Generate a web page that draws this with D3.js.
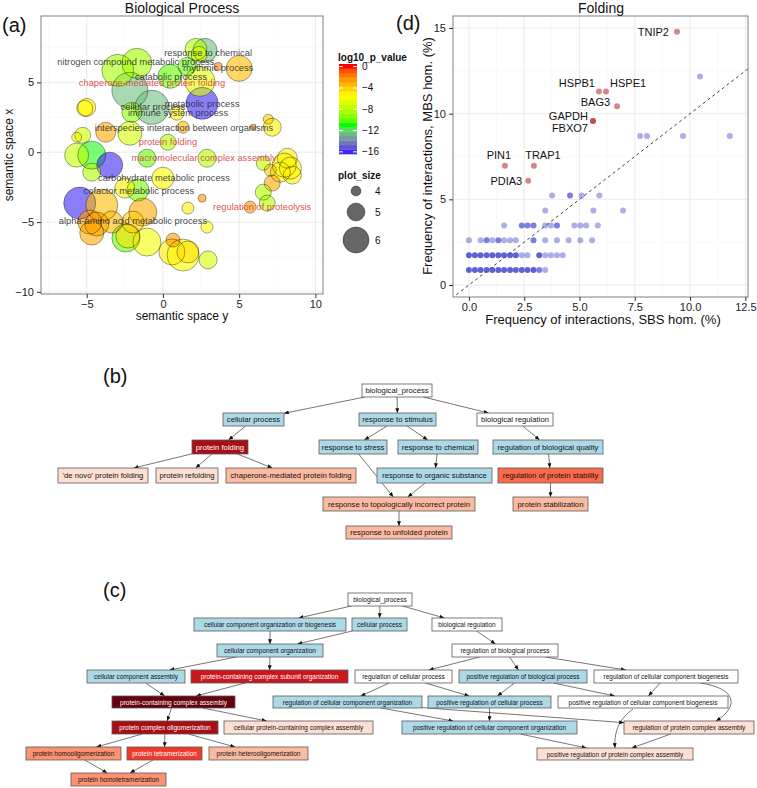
<!DOCTYPE html>
<html><head><meta charset="utf-8">
<script src="https://cdn.jsdelivr.net/npm/d3@7"></script>
<style>body{margin:0;background:#fff}svg{font-family:"Liberation Sans",Arial,Helvetica,sans-serif}</style>
</head><body><svg id="c" width="757" height="788"></svg>
<script>
// ---------------- DATA ----------------
// Panel (a): REVIGO bubbles (semantic space)
const bubX = [2.17,2.76,2.37,-2.96,-1.71,-2.17,0.46,1.58,2.43,3.62,
  5.0,2.57,-0.72,-2.04,0.92,-5.0,-5.13,-3.75,-2.17,1.32,
  -5.26,-5.66,0.33,-5.66,-4.67,-3.49,-4.67,-1.05,2.89,0.0,
  -2.5,-1.64,-5.46,-4.01,-1.32,2.57,1.64,2.89,-4.8,-4.34,
  -4.67,-3.36,-1.97,-2.43,-2.3,-1.05,0.66,0.59,1.32,1.64,
  2.96,5.92,6.91,7.17,8.16,8.36,7.7,7.96,6.58,7.04,
  7.17,6.58,6.84,5.72,8.49];
const bubY = [7.36,7.29,7.0,5.86,6.36,4.43,5.43,6.14,5.07,6.14,
  6.0,3.5,3.21,2.86,2.79,3.21,3.14,1.43,1.36,1.79,
  1.21,1.07,0.71,-0.21,-0.21,-0.93,-1.43,-0.43,-0.43,-1.86,
  -2.57,-2.71,-3.64,-3.79,-4.29,-3.29,-4.0,-5.36,-5.0,-5.14,
  -5.79,-5.0,-5.0,-6.14,-6.0,-6.43,-6.29,-7.14,-7.36,-7.14,
  -7.71,1.79,2.36,1.79,-0.43,-1.14,-1.43,-0.93,-0.79,-1.29,
  -2.21,-2.86,-3.64,-3.93,-1.64];
const bubSize = [5.5,5.75,4.75,6.75,6.5,7.25,5.75,5.0,6.5,3.75,
  6.0,6.75,7.0,5.25,4.5,5.0,4.75,5.25,5.75,4.25,
  4.75,4.0,4.75,5.75,6.25,6.0,5.0,5.0,5.0,5.5,
  5.25,5.5,6.75,6.75,6.25,3.75,4.25,4.25,5.75,5.75,
  5.75,5.5,5.5,6.25,5.75,6.25,4.5,6.0,6.75,5.5,
  5.0,3.5,4.0,5.0,5.25,5.5,5.25,5.75,4.5,4.25,
  4.75,4.75,4.75,4.25,5.0];
const bubLogP = [-8,-12.5,-7,-8.5,-8.5,-12.5,-10,-10,-6.5,-2,
  -3.5,-16,-12.5,-9,-5,-5,-5.5,-3,-7,-3.5,
  -7,-6,-8,-7.5,-11,-16,-8,-10,-8,-5.5,
  -5,-9.5,-16,-3.5,-3,-2.5,-5,-5.5,-2.5,-2.5,
  -3,-3.5,-4,-10,-4.5,-6,-2.5,-5,-5.5,-4.5,
  -7,-2,-4,-5,-5,-5.5,-5,-5.5,-7.5,-4,
  -3,-8,-8,-2.5,-5];
const termLabels = ["response to chemical","nitrogen compound metabolic process","rhythmic process","catabolic process",
  "chaperone-mediated protein folding","metabolic process","cellular process","immune system process",
  "interspecies interaction between organisms","protein folding","macromolecular complex assembly",
  "carbohydrate metabolic process","cofactor metabolic process","regulation of proteolysis",
  "alpha-amino acid metabolic process"];
const termX = [2.96,-1.78,3.62,0.53,-0.72,2.57,-0.66,0.99,1.38,0.33,2.7,0.07,-1.58,6.51,-1.97];
const termY = [7.07,6.43,6.0,5.36,4.93,3.43,3.21,2.79,1.71,0.71,-0.43,-1.86,-2.79,-3.93,-4.93];
const termHighlighted = [false,false,false,false,true,false,false,false,false,true,true,false,false,true,false];
const aXTicks = [-5,0,5,10], aYTicks = [-10,-5,0,5];
const legendP = [0,-4,-8,-12,-16], legendSizes = [4,5,6];

// Panel (d): folding interaction frequencies
const blueSBS = [0,0.27,0.53,0.80,1.06,1.33,1.59,1.86,2.12,2.39,2.65,2.92,3.18,3.45,
  0,0.27,0.53,0.80,1.06,1.33,1.59,1.86,2.12,2.39,2.65,3.18,3.45,3.71,3.98,4.24,
  0,0.53,0.80,1.06,1.33,1.59,1.86,2.12,2.92,3.45,3.98,4.51,5.04,5.57,
  1.59,2.39,2.65,2.92,3.45,3.71,3.98,4.77,5.04,5.30,5.83,
  3.45,5.63,6.97,
  3.76,4.57,5.10,5.90,
  7.74,8.05,9.68,11.8,
  10.45];
const blueMBS = [0.87,0.87,0.87,0.87,0.87,0.87,0.87,0.87,0.87,0.87,0.87,0.87,0.87,0.87,
  1.74,1.74,1.74,1.74,1.74,1.74,1.74,1.74,1.74,1.74,1.74,1.74,1.74,1.74,1.74,1.74,
  2.61,2.61,2.61,2.61,2.61,2.61,2.61,2.61,2.61,2.61,2.61,2.61,2.61,2.61,
  3.48,3.48,3.48,3.48,3.48,3.48,3.48,3.48,3.48,3.48,3.48,
  4.35,4.35,4.35,
  5.22,5.22,5.22,5.22,
  8.70,8.70,8.70,8.70,
  12.17];
const blueCount = [3,3,3,3,3,3,3,3,3,3,3,3,2,1,
  3,3,3,3,3,3,3,3,3,1,1,3,1,1,1,1,
  1,1,2,1,2,1,1,1,2,1,1,1,1,1,
  1,2,2,2,1,1,2,1,1,1,1,
  1,1,1,
  1,2,1,1,
  1,1,1,1,
  1];
const redGenes = ["TNIP2","HSPB1","HSPE1","BAG3","GAPDH","FBXO7","PIN1","TRAP1","PDIA3"];
const redSBS = [9.41,5.88,6.20,6.70,5.61,5.61,1.63,2.94,2.68];
const redMBS = [14.78,11.30,11.30,10.43,9.57,9.57,6.96,6.96,6.09];
const dXTicks = [0,2.5,5,7.5,10,12.5], dYTicks = [0,5,10,15];

// Panel (b): GO DAG
const dagBNames = ["biological_process","cellular process","response to stimulus","biological regulation",
  "protein folding","response to stress","response to chemical","regulation of biological quality",
  "'de novo' protein folding","protein refolding","chaperone-mediated protein folding",
  "response to organic substance","regulation of protein stability",
  "response to topologically incorrect protein","protein stabilization","response to unfolded protein"];
const dagBFill = ["#ffffff","#add8e6","#add8e6","#ffffff","#a50f15","#add8e6","#add8e6","#add8e6",
  "#fee0d2","#fee0d2","#fcbba1","#add8e6","#fb6a4a","#fcbba1","#fcbba1","#fcbba1"];
const dagBEdges = [[0,1],[0,2],[0,3],[1,4],[4,8],[4,9],[4,10],[2,5],[2,6],[6,11],[5,13],[11,13],[13,15],[3,7],[7,12],[12,14]];

// Panel (c): GO DAG
const dagCNames = ["biological_process","cellular component organization or biogenesis","cellular process",
  "biological regulation","cellular component organization","regulation of biological process",
  "cellular component assembly","protein-containing complex subunit organization","regulation of cellular process",
  "positive regulation of biological process","regulation of cellular component biogenesis",
  "protein-containing complex assembly","regulation of cellular component organization",
  "positive regulation of cellular process","positive regulation of cellular component biogenesis",
  "protein complex oligomerization","cellular protein-containing complex assembly",
  "positive regulation of cellular component organization","regulation of protein complex assembly",
  "protein homooligomerization","protein tetramerization","protein heterooligomerization",
  "protein homotetramerization","positive regulation of protein complex assembly"];
const dagCFill = ["#ffffff","#add8e6","#add8e6","#ffffff","#add8e6","#ffffff",
  "#add8e6","#cb181d","#ffffff","#add8e6","#ffffff",
  "#67000d","#add8e6","#add8e6","#ffffff",
  "#a50f15","#fee0d2","#add8e6","#fee0d2",
  "#fc9272","#ef3b2c","#fcbba1","#fc9272","#fee0d2"];
const dagCEdges = [[0,1],[0,2],[0,3],[1,4],[2,4],[4,6],[4,7],[6,11],[7,11],[11,15],[11,16],[15,19],[15,20],[15,21],
  [19,22],[20,22],[3,5],[5,8],[5,9],[5,10],[8,12],[8,13],[9,13],[9,14],[10,14],[10,18],[12,17],[12,18],[13,17],
  [14,23],[17,23],[18,23]];

// ---------------- LAYOUT (positions / styles) ----------------
const boxesB = [[362,432,384,397],[223,284,413,426],[359,436,413,426],[477,553,413,426],
  [192,248,440,454],[319,387,440,454],[398,478,440,454],[493,603,440,454],
  [58,148,468,483],[156,218,468,483],[226,356,468,483],[377,492,468,483],[498,603,468,483],
  [323,475,497,511],[513,588,497,511],[346,452,526,539]];
const boxesC = [[348,412,593,606],[194,346,618,631],[352,407,618,631],[432,502,618,631],
  [217,323,644,657],[452,558,644,657],
  [87,185,670,683],[191,348,670,683],[355,452,670,683],[459,587,670,683],[594,738,670,683],
  [112,235,696,708],[273,422,696,708],[428,551,696,708],[558,728,696,708],
  [112,218,721,734],[224,373,721,734],[402,577,721,734],[624,754,721,734],
  [26,121,747,760],[127,202,747,760],[209,308,747,760],[71,166,773,786],[537,693,748,760]];
const curvesB = {};
const curvesC = {"10-18":"M700,683C736,688,740,706,716,721","14-23":"M633,709C618,720,614,733,615,748"};

const svg = d3.select("#c");
const defs = svg.append("defs");
defs.append("marker").attr("id","arr").attr("viewBox","0 0 6 5").attr("refX",6).attr("refY",2.5)
  .attr("markerWidth",5).attr("markerHeight",4).attr("markerUnits","userSpaceOnUse").attr("orient","auto")
  .append("path").attr("d","M0,0L6,2.5L0,5Z").attr("fill","#111");

function gridAndFrame(g, x, y, xMaj, yMaj, xMin, yMin) {
  const [x0,x1]=x.range(), [y1,y0]=y.range();
  g.append("rect").attr("x",x0).attr("y",y0).attr("width",x1-x0).attr("height",y1-y0).attr("fill","#fff");
  xMin.forEach(v=>g.append("line").attr("x1",x(v)).attr("x2",x(v)).attr("y1",y0).attr("y2",y1).attr("stroke","#f2f2f2").attr("stroke-width",0.5));
  yMin.forEach(v=>g.append("line").attr("y1",y(v)).attr("y2",y(v)).attr("x1",x0).attr("x2",x1).attr("stroke","#f2f2f2").attr("stroke-width",0.5));
  xMaj.forEach(v=>g.append("line").attr("x1",x(v)).attr("x2",x(v)).attr("y1",y0).attr("y2",y1).attr("stroke","#e6e6e6").attr("stroke-width",0.8));
  yMaj.forEach(v=>g.append("line").attr("y1",y(v)).attr("y2",y(v)).attr("x1",x0).attr("x2",x1).attr("stroke","#e6e6e6").attr("stroke-width",0.8));
}
function frame(g,x,y){
  const [x0,x1]=x.range(), [y1,y0]=y.range();
  g.append("rect").attr("x",x0).attr("y",y0).attr("width",x1-x0).attr("height",y1-y0).attr("fill","none").attr("stroke","#808080").attr("stroke-width",1);
}
function styleAxis(sel){
  sel.select(".domain").remove();
  sel.selectAll(".tick line").attr("stroke","#333");
  sel.selectAll(".tick text").attr("fill","#222").style("font-size","11px").style("font-family",'"Liberation Sans",Arial,sans-serif');
}

// ---------------- PANEL (a) ----------------
const xA = d3.scaleLinear().domain([-8,10.5]).range([41,323]);
const yA = d3.scaleLinear().domain([-10.15,9.75]).range([294,16]);
const rA = d3.scaleLinear().domain([4,6]).range([5,13]);
const colA = d3.scaleLinear().domain([-16.4,-10.9,-5.45,0]).range(["#0000ff","#00ff00","#ffff00","#ff0000"]).interpolate(d3.interpolateLab).clamp(true);
const gA = svg.append("g");
gridAndFrame(gA,xA,yA,aXTicks,aYTicks,[-7.5,-2.5,2.5,7.5],[-7.5,-2.5,2.5,7.5]);
defs.append("clipPath").attr("id","clipA").append("rect").attr("x",41).attr("y",16).attr("width",282).attr("height",278);
const bub = d3.range(bubX.length).map(i=>({x:bubX[i],y:bubY[i],s:bubSize[i],p:bubLogP[i]})).sort((a,b)=>b.s-a.s);
const gB = gA.append("g").attr("clip-path","url(#clipA)");
gB.selectAll("circle.f").data(bub).join("circle").attr("cx",d=>xA(d.x)).attr("cy",d=>yA(d.y)).attr("r",d=>rA(d.s))
  .attr("fill",d=>colA(d.p)).attr("fill-opacity",0.6).attr("stroke","none");
gB.selectAll("circle.o").data(bub).join("circle").attr("cx",d=>xA(d.x)).attr("cy",d=>yA(d.y)).attr("r",d=>rA(d.s))
  .attr("fill","none").attr("stroke","#000").attr("stroke-opacity",0.6).attr("stroke-width",0.6);
gA.selectAll("text.lab").data(termLabels).join("text").attr("x",(d,i)=>xA(termX[i])).attr("y",(d,i)=>yA(termY[i]))
  .attr("text-anchor","middle").attr("dominant-baseline","central").style("font-size","9.3px")
  .attr("fill",(d,i)=>termHighlighted[i]?"#d63b3b":"#2a2a2a").attr("fill-opacity",0.9).text(d=>d);
frame(gA,xA,yA);
styleAxis(gA.append("g").attr("transform","translate(41,0)").call(d3.axisLeft(yA).tickValues(aYTicks).tickSize(4).tickPadding(3)));
styleAxis(gA.append("g").attr("transform","translate(0,294)").call(d3.axisBottom(xA).tickValues(aXTicks).tickSize(4).tickPadding(2)));
gA.append("text").attr("x",182).attr("y",320).attr("text-anchor","middle").style("font-size","12px").attr("fill","#111").text("semantic space y");
gA.append("text").attr("transform","translate(13,155) rotate(-90)").attr("text-anchor","middle").style("font-size","12px").attr("fill","#111").text("semantic space x");
gA.append("text").attr("x",182).attr("y",13).attr("text-anchor","middle").style("font-size","14px").attr("fill","#111").text("Biological Process");
svg.append("text").attr("x",2).attr("y",32).style("font-size","20px").attr("fill","#111").text("(a)");

// legend (a)
const gL = svg.append("g");
gL.append("text").attr("x",338).attr("y",61).style("font-size","10px").style("font-weight","bold").attr("fill","#111").text("log10_p_value");
const yLeg = d3.scaleLinear().domain([-16.4,0.5]).range([154,64]);
const nb = 20, step = (0.5+16.4)/nb;
d3.range(nb).forEach(i=>{
  const v0=-16.4+i*step, v1=v0+step;
  gL.append("rect").attr("x",339).attr("width",18).attr("y",yLeg(v1)).attr("height",yLeg(v0)-yLeg(v1)+0.3).attr("fill",colA((v0+v1)/2));
});
legendP.forEach(v=>{
  gL.append("line").attr("x1",339).attr("x2",343).attr("y1",yLeg(v)).attr("y2",yLeg(v)).attr("stroke","#fff").attr("stroke-width",1);
  gL.append("line").attr("x1",353).attr("x2",357).attr("y1",yLeg(v)).attr("y2",yLeg(v)).attr("stroke","#fff").attr("stroke-width",1);
  gL.append("text").attr("x",362).attr("y",yLeg(v)).attr("dominant-baseline","central").style("font-size","10px").attr("fill","#111").text(d3.format("d")(v));
});
gL.append("text").attr("x",338).attr("y",179).style("font-size","10px").style("font-weight","bold").attr("fill","#111").text("plot_size");
const legY = [191,212,240];
legendSizes.forEach((s,i)=>{
  gL.append("circle").attr("cx",356).attr("cy",legY[i]).attr("r",rA(s)).attr("fill","#000").attr("fill-opacity",0.6).attr("stroke","#000").attr("stroke-opacity",0.6).attr("stroke-width",0.6);
  gL.append("text").attr("x",375).attr("y",legY[i]).attr("dominant-baseline","central").style("font-size","10px").attr("fill","#111").text(s);
});

// ---------------- PANEL (d) ----------------
const xD = d3.scaleLinear().domain([-0.72,12.62]).range([453,748]);
const yD = d3.scaleLinear().domain([-0.7,15.7]).range([297,16]);
const gD = svg.append("g");
gridAndFrame(gD,xD,yD,dXTicks,dYTicks,[1.25,3.75,6.25,8.75,11.25],[2.5,7.5,12.5]);
defs.append("clipPath").attr("id","clipD").append("rect").attr("x",453).attr("y",16).attr("width",295).attr("height",281);
const gDc = gD.append("g").attr("clip-path","url(#clipD)");
gDc.append("line").attr("x1",xD(-1)).attr("y1",yD(-1)).attr("x2",xD(13)).attr("y2",yD(13)).attr("stroke","#111").attr("stroke-width",0.8).attr("stroke-dasharray","3,3");
const blue = d3.range(blueSBS.length).map(i=>({x:blueSBS[i],y:blueMBS[i],n:blueCount[i]}));
gDc.selectAll("circle.b").data(blue).join("circle").attr("cx",d=>xD(d.x)).attr("cy",d=>yD(d.y)).attr("r",3)
  .attr("fill","#3b3bc8").attr("fill-opacity",d=>1-Math.pow(0.58,d.n));
const red = redGenes.map((g,i)=>({g,x:redSBS[i],y:redMBS[i]}));
gDc.selectAll("circle.r").data(red).join("circle").attr("cx",d=>xD(d.x)).attr("cy",d=>yD(d.y)).attr("r",3)
  .attr("fill","#b22222").attr("fill-opacity",0.55);
const labOff = {TNIP2:[-8,0,"end"],HSPB1:[-4,-8,"end"],HSPE1:[4,-8,"start"],BAG3:[-7,-4,"end"],GAPDH:[-5,-5,"end"],
  FBXO7:[-5,7,"end"],PIN1:[-6,-11,"middle"],TRAP1:[9,-11,"middle"],PDIA3:[-6,0,"end"]};
gD.selectAll("text.g").data(red).join("text").attr("x",d=>xD(d.x)+labOff[d.g][0]).attr("y",d=>yD(d.y)+labOff[d.g][1])
  .attr("text-anchor",d=>labOff[d.g][2]).attr("dominant-baseline","central").style("font-size","11px").attr("fill","#111").text(d=>d.g);
frame(gD,xD,yD);
styleAxis(gD.append("g").attr("transform","translate(453,0)").call(d3.axisLeft(yD).tickValues(dYTicks).tickSize(4).tickPadding(3)));
styleAxis(gD.append("g").attr("transform","translate(0,297)").call(d3.axisBottom(xD).tickValues(dXTicks).tickFormat(d3.format(".1f")).tickSize(4).tickPadding(2)));
gD.append("text").attr("x",603).attr("y",324).attr("text-anchor","middle").style("font-size","13px").attr("fill","#111").text("Frequency of interactions, SBS hom. (%)");
gD.append("text").attr("transform","translate(427,156) rotate(-90)").attr("text-anchor","middle").attr("dominant-baseline","central").style("font-size","13px").attr("fill","#111").text("Frequency of interactions, MBS hom. (%)");
gD.append("text").attr("x",601).attr("y",13).attr("text-anchor","middle").style("font-size","14px").attr("fill","#111").text("Folding");
svg.append("text").attr("x",396).attr("y",30).style("font-size","20px").attr("fill","#111").text("(d)");

// ---------------- DAGs ----------------
function clip(b,dx,dy){
  const cx=(b[0]+b[1])/2, cy=(b[2]+b[3])/2, hw=(b[1]-b[0])/2, hh=(b[3]-b[2])/2;
  const t=Math.min(dx?hw/Math.abs(dx):Infinity, dy?hh/Math.abs(dy):Infinity);
  return [cx+dx*t, cy+dy*t];
}
function drawDag(names, fills, boxes, edges, curves, fs){
  const g = svg.append("g");
  edges.forEach(([s,t])=>{
    let d = curves[s+"-"+t];
    if(!d){
      const a=boxes[s], b=boxes[t];
      const dx=(b[0]+b[1])/2-(a[0]+a[1])/2, dy=(b[2]+b[3])/2-(a[2]+a[3])/2;
      const p0=clip(a,dx,dy), p1=clip(b,-dx,-dy);
      d=`M${p0[0]},${p0[1]}L${p1[0]},${p1[1]}`;
    }
    g.append("path").attr("d",d).attr("fill","none").attr("stroke","#1a1a1a").attr("stroke-width",0.6).attr("marker-end","url(#arr)");
  });
  names.forEach((n,i)=>{
    const b=boxes[i];
    g.append("rect").attr("x",b[0]).attr("y",b[2]).attr("width",b[1]-b[0]).attr("height",b[3]-b[2])
      .attr("fill",fills[i]).attr("stroke","#5a5a5a").attr("stroke-width",0.8);
    g.append("text").attr("x",(b[0]+b[1])/2).attr("y",(b[2]+b[3])/2+0.3).attr("text-anchor","middle").attr("dominant-baseline","central")
      .style("font-size",fs+"px").attr("fill",d3.lab(fills[i]).l<60?"#fff":"#111").text(n);
  });
}
drawDag(dagBNames,dagBFill,boxesB,dagBEdges,curvesB,7.7);
drawDag(dagCNames,dagCFill,boxesC,dagCEdges,curvesC,6.5);
svg.append("text").attr("x",103).attr("y",383).style("font-size","20px").attr("fill","#111").text("(b)");
svg.append("text").attr("x",103).attr("y",597).style("font-size","20px").attr("fill","#111").text("(c)");
</script></body></html>
